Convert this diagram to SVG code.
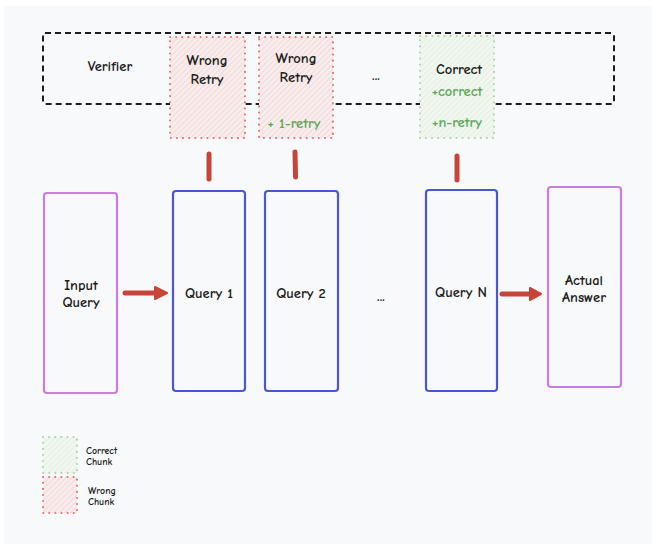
<svg xmlns="http://www.w3.org/2000/svg" width="660" height="550" viewBox="0 0 660 550">
<defs>
<pattern id="hatchRed" width="4" height="4" patternUnits="userSpaceOnUse" patternTransform="rotate(45)">
<rect width="4" height="4" fill="#f8ecec"/>
<line x1="0" y1="0" x2="0" y2="4" stroke="#ecc3c1" stroke-width="0.9"/>
</pattern>
<pattern id="hatchGreen" width="4" height="4" patternUnits="userSpaceOnUse" patternTransform="rotate(45)">
<rect width="4" height="4" fill="#f1f6ef"/>
<line x1="0" y1="0" x2="0" y2="4" stroke="#d6e8d1" stroke-width="0.9"/>
</pattern>
</defs>
<style>
.t{font-family:"Comic Neue","DejaVu Sans",sans-serif;font-size:14.5px;font-weight:bold;fill:#1e1e1e;text-anchor:middle}
.g{fill:#5fa85a}
.s{font-size:9.8px;font-weight:bold;text-anchor:start}
.wrong{fill:url(#hatchRed);stroke:#e57070;stroke-width:2;stroke-dasharray:0.1 6;stroke-linecap:round}
.right{fill:url(#hatchGreen);stroke:#add4a5;stroke-width:2;stroke-dasharray:0.1 6;stroke-linecap:round}
.purple{fill:none;stroke:#c97ee0;stroke-width:2.2}
.blue{fill:none;stroke:#4a57d3;stroke-width:2.2}
.bar{stroke:#c8443a;stroke-width:5;stroke-linecap:round;fill:none}
</style>
<rect x="0" y="0" width="660" height="550" fill="#ffffff"/>
<rect x="4" y="6" width="648" height="538" fill="#f8f9fb"/>

<g id="verifier">
<rect x="43" y="33" width="571" height="71" rx="2" fill="none" stroke="#1e1e1e" stroke-width="2" stroke-dasharray="6 4"/>
<text class="t" x="110" y="71">Verifier</text>
<text class="t" x="376" y="80">...</text>
</g>

<g id="wrong1">
<rect class="wrong" x="170" y="37" width="75" height="101"/>
<text class="t" x="207" y="65">Wrong</text>
<text class="t" x="207" y="84">Retry</text>
</g>

<g id="wrong2">
<rect class="wrong" x="259" y="37" width="74" height="101"/>
<text class="t" x="296" y="63">Wrong</text>
<text class="t" x="296" y="82">Retry</text>
<text class="t g" x="294" y="128">+ 1-retry</text>
</g>

<g id="correct">
<rect class="right" x="420" y="36" width="74" height="102"/>
<text class="t" x="459" y="74">Correct</text>
<text class="t g" x="457" y="96">+correct</text>
<text class="t g" x="457" y="127">+n-retry</text>
</g>

<g id="input">
<rect class="purple" x="44" y="193" width="73" height="200" rx="3"/>
<text class="t" x="81" y="290">Input</text>
<text class="t" x="81" y="307">Query</text>
</g>

<g id="query1">
<rect class="blue" x="173" y="191" width="72" height="200" rx="3"/>
<text class="t" x="209" y="298">Query 1</text>
</g>

<g id="query2">
<rect class="blue" x="265" y="191" width="73" height="200" rx="3"/>
<text class="t" x="301" y="298">Query 2</text>
</g>

<text class="t" x="381" y="301">...</text>

<g id="queryN">
<rect class="blue" x="426" y="190" width="71" height="201" rx="3"/>
<text class="t" x="461" y="297">Query N</text>
</g>

<g id="answer">
<rect class="purple" x="548" y="187" width="73" height="200" rx="3"/>
<text class="t" x="584" y="285">Actual</text>
<text class="t" x="584" y="302">Answer</text>
</g>

<g id="connectors">
<line class="bar" x1="209" y1="154" x2="209" y2="179"/>
<line class="bar" x1="295" y1="152" x2="295.5" y2="177"/>
<line class="bar" x1="457" y1="156" x2="457" y2="180"/>
<line class="bar" x1="125" y1="293" x2="156" y2="293"/>
<path d="M155 287 L167 293 L155 299 Z" fill="#c8443a" stroke="#c8443a" stroke-width="2" stroke-linejoin="round"/>
<line class="bar" x1="502" y1="294" x2="531" y2="294"/>
<path d="M530 288 L541 294 L530 300 Z" fill="#c8443a" stroke="#c8443a" stroke-width="2" stroke-linejoin="round"/>
</g>

<g id="legend">
<rect class="right" x="43" y="437" width="34" height="36"/>
<rect class="wrong" x="43" y="477" width="34" height="36"/>
<text class="t s" x="86" y="454">Correct</text>
<text class="t s" x="86" y="465">Chunk</text>
<text class="t s" x="88" y="494">Wrong</text>
<text class="t s" x="88" y="505">Chunk</text>
</g>
</svg>
